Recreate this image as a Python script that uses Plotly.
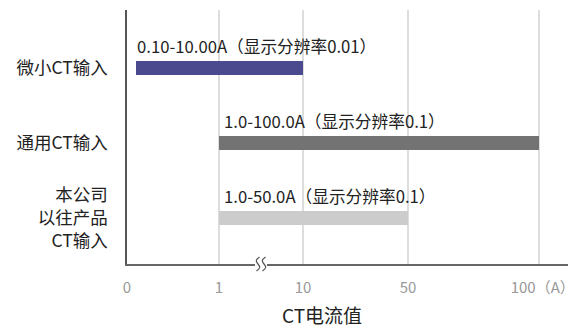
import numpy as np
import plotly.graph_objects as go

# Categories (top to bottom) and current ranges in amperes
categories = ["微小CT输入", "通用CT输入", "本公司<br>以往产品<br>CT输入"]
range_low = [0.10, 1.0, 1.0]
range_high = [10.00, 100.0, 50.0]
range_labels = [
    "0.10-10.00A（显示分辨率0.01）",
    "1.0-100.0A（显示分辨率0.1）",
    "1.0-50.0A（显示分辨率0.1）",
]
bar_colors = ["#4b4a8f", "#737373", "#cccccc"]

# Broken (piecewise-linear) current axis: tick values and their axis positions
tick_values = [0, 1, 10, 50, 100]
tick_labels = ["0", "1", "10", "50", "\u2002100（A）"]
tick_positions = [0, 92, 176, 281, 412]
axis_max = 441


def to_axis(v):
    return np.interp(v, tick_values, tick_positions)


y_pos = list(range(len(categories)))
starts = to_axis(range_low)
ends = to_axis(range_high)

fig = go.Figure()
fig.add_trace(go.Bar(
    y=y_pos,
    x=ends - starts,
    base=starts,
    orientation="h",
    width=0.175,
    marker=dict(color=bar_colors, line=dict(width=0)),
    hoverinfo="skip",
    showlegend=False,
))

for i, txt in enumerate(range_labels):
    fig.add_annotation(
        x=starts[i], y=y_pos[i] - 0.29, xref="x", yref="y",
        text=txt, showarrow=False, xanchor="left", yanchor="middle",
        xshift=-1 if i == 0 else 3,
        font=dict(size=16.7, color="#222222"),
    )

# Axis title placed under the broken axis
fig.add_annotation(
    x=0.442, y=0, xref="paper", yref="paper", yshift=-50,
    text="CT电流值", showarrow=False, xanchor="center", yanchor="middle",
    borderpad=0, font=dict(size=19, color="#222222"),
)

# Axis break marker between 1 and 10: white gap plus two wavy strokes
break_x = (tick_positions[1] + tick_positions[2]) / 2
fig.add_shape(
    type="rect", xref="x", yref="paper", xsizemode="pixel", ysizemode="pixel",
    xanchor=break_x, yanchor=0, x0=-6, x1=6, y0=-3, y1=3,
    fillcolor="white", line=dict(width=0), layer="above",
)
for dx in (-3, 3):
    fig.add_shape(
        type="path", xref="x", yref="paper", xsizemode="pixel", ysizemode="pixel",
        xanchor=break_x, yanchor=0,
        path=(f"M {dx + 1.5},7 C {dx - 2.5},4 {dx - 2.5},3 {dx},0 "
              f"C {dx + 2.5},-3 {dx + 2.5},-4 {dx - 1.5},-7"),
        line=dict(color="#555555", width=1.2), layer="above",
    )

fig.update_layout(
    width=577, height=327,
    margin=dict(l=127, r=9, t=10, b=63),
    paper_bgcolor="white", plot_bgcolor="white",
    font=dict(family="Noto Sans CJK SC, Noto Sans, sans-serif"),
    bargap=0,
)
fig.update_xaxes(
    range=[0, axis_max], automargin=False,
    tickvals=tick_positions, ticktext=tick_labels,
    tickfont=dict(size=15, color="#999999"),
    ticks="outside", ticklen=9, tickcolor="rgba(0,0,0,0)",
    showgrid=True, gridcolor="#dddddd", gridwidth=1.5,
    zeroline=False,
    showline=True, linecolor="#666666", linewidth=1.5,
)
fig.update_yaxes(
    range=[2.613, -0.773], automargin=False,
    tickvals=y_pos, ticktext=categories,
    tickfont=dict(size=17.5, color="#222222"),
    ticks="outside", ticklen=14, tickcolor="rgba(0,0,0,0)",
    showgrid=False, zeroline=False,
    showline=True, linecolor="#555555", linewidth=1.5,
)

fig.write_html("out.html")
